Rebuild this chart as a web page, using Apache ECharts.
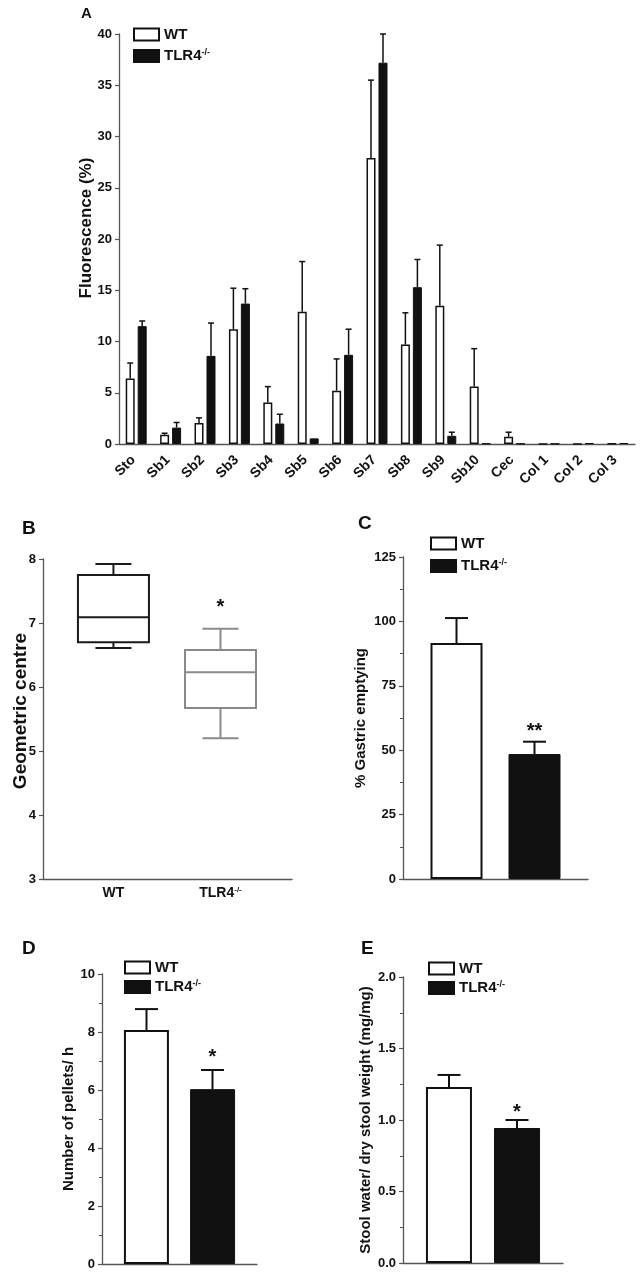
<!DOCTYPE html>
<html><head><meta charset="utf-8">
<script src="https://cdn.jsdelivr.net/npm/echarts@6/dist/echarts.min.js"></script>
<style>html,body{margin:0;padding:0;background:#fff}#c{width:640px;height:1273px}</style>
</head><body><div id="c"></div>
<script>
// ---------- DATA ----------
const seriesNames = ['WT', 'TLR4-/-'];
// Panel A
const categoriesA = ['Sto','Sb1','Sb2','Sb3','Sb4','Sb5','Sb6','Sb7','Sb8','Sb9','Sb10','Cec','Col 1','Col 2','Col 3'];
const wtMeanA  = [6.4, 0.9, 2.05, 11.2, 4.05, 12.9, 5.2, 27.9, 9.7, 13.5, 5.6, 0.7, 0.02, 0.02, 0.03];
const wtErrA   = [1.5, 0.15, 0.5, 4.0, 1.55, 4.9, 3.1, 7.6, 3.1, 5.9, 3.7, 0.45, 0, 0, 0];
const tlrMeanA = [11.5, 1.6, 8.6, 13.7, 2.0, 0.55, 8.7, 37.2, 15.3, 0.8, 0.05, 0.03, 0.03, 0.08, 0.1];
const tlrErrA  = [0.5, 0.5, 3.2, 1.45, 0.9, 0, 2.5, 2.8, 2.7, 0.35, 0, 0, 0, 0, 0];
const ticksA = [0, 40, 5];
// Panel B  [min, Q1, median, Q3, max]
const groupsB = ['WT', 'TLR4-/-'];
const wtBoxB  = [6.61, 6.70, 7.09, 7.75, 7.92];
const tlrBoxB = [5.20, 5.67, 6.23, 6.58, 6.91];
const sigB = ['', '*'];
const ticksB = [3, 8, 1];
// Panel C
const meanC = [91.6, 48.5];
const errC  = [9.7, 4.8];
const sigC  = ['', '**'];
const ticksC = [0, 125, 25];
// Panel D
const meanD = [8.07, 6.03];
const errD  = [0.72, 0.66];
const sigD  = ['', '*'];
const ticksD = [0, 10, 2];
// Panel E
const meanE = [1.23, 0.944];
const errE  = [0.085, 0.056];
const sigE  = ['', '*'];
const ticksE = [0, 2, 0.5];

// ---------- STYLE ----------
const FONT = 'Liberation Sans, Arial, Helvetica, sans-serif';
const AX = '#555';
const WT_STYLE = {color: '#ffffff', borderColor: '#111', borderWidth: 2};
const KO_STYLE = {color: '#111111', borderColor: '#111', borderWidth: 1};

function supFmt(name) {
  const m = /^(.*?)(-\/-)$/.exec(name);
  return m ? '{b|' + m[1] + '}{s|' + m[2] + '}' : '{b|' + name + '}';
}
function richText(size) {
  return {
    b: {fontSize: size, fontWeight: 'bold', fontFamily: FONT, color: '#111', lineHeight: size + 1},
    s: {fontSize: Math.round(size * 0.6), fontWeight: 'bold', fontFamily: FONT, color: '#111', verticalAlign: 'top'}
  };
}

function yAx(grid, t, name, nameSize, nameGap, namePad, minor, fmt) {
  return {
    type: 'value', gridIndex: grid, min: t[0], max: t[1], interval: t[2],
    axisLine: {show: true, onZero: false, lineStyle: {color: AX, width: 1.3}},
    axisTick: {show: true, length: 4, lineStyle: {color: AX, width: 1.2}},
    minorTick: {show: !!minor, splitNumber: 2, length: 3, lineStyle: {color: AX, width: 1}},
    splitLine: {show: false}, minorSplitLine: {show: false},
    axisLabel: {fontSize: 13, fontWeight: 'bold', color: '#111', fontFamily: FONT, margin: 7,
      formatter: fmt || null},
    name: name, nameLocation: 'middle', nameGap: nameGap, nameRotate: 90, nameMoveOverlap: false,
    nameTextStyle: {fontSize: nameSize, fontWeight: 'bold', color: '#111', fontFamily: FONT,
      padding: namePad}
  };
}
function xCat(grid, data, extra) {
  return Object.assign({
    type: 'category', gridIndex: grid, data: data,
    axisLine: {show: true, onZero: false, lineStyle: {color: AX, width: 1.3}},
    axisTick: {show: false}, axisLabel: {show: false}, splitLine: {show: false}
  }, extra || {});
}

function errRender(spacing, capHalf, lw, sigs, starFont, starLift) {
  return function (params, api) {
    const x = api.value(0), m = api.value(1), e = api.value(2), g = api.value(3);
    const base = api.coord([x, m]);
    const top = api.coord([x, m + e]);
    const cx = base[0] + (g - 0.5) * spacing;
    const st = {stroke: '#111', lineWidth: lw};
    const ch = [];
    if (e > 0) {
      ch.push({type: 'line', shape: {x1: cx, y1: base[1], x2: cx, y2: top[1]}, style: st});
      ch.push({type: 'line', shape: {x1: cx - capHalf, y1: top[1], x2: cx + capHalf, y2: top[1]}, style: st});
    }
    const s = sigs ? sigs[g] : '';
    if (s) {
      ch.push({type: 'text', style: {text: s, x: cx, y: top[1] - starLift, align: 'center',
        verticalAlign: 'middle', font: 'bold ' + starFont + 'px ' + FONT, fill: '#111'}});
    }
    return {type: 'group', children: ch};
  };
}

function boxRender(hw, capHalf, colors, sigs) {
  return function (params, api) {
    const g = api.value(0);
    const pMin = api.coord([g, api.value(1)]);
    const pQ1 = api.coord([g, api.value(2)]);
    const pMed = api.coord([g, api.value(3)]);
    const pQ3 = api.coord([g, api.value(4)]);
    const pMax = api.coord([g, api.value(5)]);
    const cx = pMin[0];
    const st = {stroke: colors[g], lineWidth: 2};
    const ch = [
      {type: 'line', shape: {x1: cx, y1: pQ3[1], x2: cx, y2: pMax[1]}, style: st},
      {type: 'line', shape: {x1: cx, y1: pQ1[1], x2: cx, y2: pMin[1]}, style: st},
      {type: 'line', shape: {x1: cx - capHalf, y1: pMax[1], x2: cx + capHalf, y2: pMax[1]}, style: st},
      {type: 'line', shape: {x1: cx - capHalf, y1: pMin[1], x2: cx + capHalf, y2: pMin[1]}, style: st},
      {type: 'rect', shape: {x: cx - hw, y: pQ3[1], width: 2 * hw, height: pQ1[1] - pQ3[1]},
        style: {stroke: colors[g], lineWidth: 2, fill: '#fff'}},
      {type: 'line', shape: {x1: cx - hw, y1: pMed[1], x2: cx + hw, y2: pMed[1]}, style: st}
    ];
    if (sigs[g]) {
      ch.push({type: 'text', style: {text: sigs[g], x: cx, y: pMax[1] - 21, align: 'center',
        verticalAlign: 'middle', font: 'bold 20px ' + FONT, fill: '#111'}});
    }
    return {type: 'group', children: ch};
  };
}

function legendAt(left, top, gap) {
  return {
    data: seriesNames, left: left, top: top, orient: 'vertical', icon: 'rect',
    itemWidth: 25, itemHeight: 12, itemGap: gap, padding: 0, selectedMode: false,
    formatter: supFmt,
    textStyle: {fontSize: 15, fontWeight: 'bold', color: '#111', fontFamily: FONT, rich: richText(15)}
  };
}
function titleAt(text, left, top, size) {
  return {text: text, left: left, top: top, padding: 0,
    textStyle: {fontSize: size, fontWeight: 'bold', color: '#111', fontFamily: FONT}};
}

// build custom data
const errDataA = [];
categoriesA.forEach(function (c, i) {
  errDataA.push([i, wtMeanA[i], wtErrA[i], 0]);
  errDataA.push([i, tlrMeanA[i], tlrErrA[i], 1]);
});
function pairData(mean, err) { return [[0, mean[0], err[0], 0], [0, mean[1], err[1], 1]]; }
const boxDataB = [[0].concat(wtBoxB), [1].concat(tlrBoxB)];

function barPair(xi, yi, mean, width, gap) {
  return [
    {name: seriesNames[0], type: 'bar', xAxisIndex: xi, yAxisIndex: yi, data: [mean[0]],
      barWidth: width, barGap: gap, itemStyle: WT_STYLE},
    {name: seriesNames[1], type: 'bar', xAxisIndex: xi, yAxisIndex: yi, data: [mean[1]],
      barWidth: width, barGap: gap, itemStyle: KO_STYLE}
  ];
}

const chart = echarts.init(document.getElementById('c'), null, {renderer: 'canvas'});
const option = {
  animation: false,
  textStyle: {fontFamily: FONT},
  title: [
    titleAt('A', 81, 6, 15),
    titleAt('B', 22, 519, 19),
    titleAt('C', 358, 514, 19),
    titleAt('D', 22, 939, 19),
    titleAt('E', 361, 939, 19)
  ],
  legend: [legendAt(133, 27, 6), legendAt(430, 536, 7), legendAt(124, 960, 4), legendAt(428, 961, 4)],
  grid: [
    {left: 119, top: 34, width: 516, height: 410},
    {left: 43, top: 559, width: 249, height: 320},
    {left: 403, top: 557, width: 185, height: 322},
    {left: 102, top: 974, width: 155, height: 290},
    {left: 403, top: 977, width: 160, height: 286}
  ],
  xAxis: [
    xCat(0, categoriesA, {axisLabel: {show: true, interval: 0, rotate: 45, margin: 11, fontSize: 14,
      fontWeight: 'bold', color: '#111', fontFamily: FONT, padding: [0, 4, 0, 0]}}),
    {type: 'value', gridIndex: 1, min: -0.658, max: 1.668,
      axisLine: {show: true, onZero: false, lineStyle: {color: AX, width: 1.3}}, axisTick: {show: false},
      splitLine: {show: false},
      axisLabel: {show: true, customValues: [0, 1], margin: 7,
        formatter: function (v) { return supFmt(groupsB[Math.round(v)]); },
        rich: richText(14)}},
    xCat(2, ['C']),
    xCat(3, ['D']),
    xCat(4, ['E'])
  ],
  yAxis: [
    yAx(0, ticksA, 'Fluorescence (%)', 17, 24, [0, 0, 0, 22], false),
    yAx(1, ticksB, 'Geometric centre', 19, 13, [0, 0, 0, 16], false),
    yAx(2, ticksC, '% Gastric emptying', 15, 35, 0, true),
    yAx(3, ticksD, 'Number of pellets/ h', 15, 26, 0, true),
    yAx(4, ticksE, 'Stool water/ dry stool weight (mg/mg)', 15, 30, 0, true,
      function (v) { return v.toFixed(1); })
  ],
  series: [
    {name: seriesNames[0], type: 'bar', xAxisIndex: 0, yAxisIndex: 0, data: wtMeanA,
      barWidth: 9, barGap: '33%', itemStyle: {color: '#fff', borderColor: '#111', borderWidth: 1.5}},
    {name: seriesNames[1], type: 'bar', xAxisIndex: 0, yAxisIndex: 0, data: tlrMeanA,
      barWidth: 9, barGap: '33%', itemStyle: KO_STYLE},
    {name: 'errA', type: 'custom', xAxisIndex: 0, yAxisIndex: 0, data: errDataA,
      encode: {x: 0, y: 1}, renderItem: errRender(12, 3, 1.5, null, 0, 0), z: 3},
    {name: 'boxB', type: 'custom', xAxisIndex: 1, yAxisIndex: 1, data: boxDataB,
      encode: {x: 0, y: [1, 2, 3, 4, 5]}, renderItem: boxRender(35.5, 18, ['#1a1a1a', '#8a8a8a'], sigB)}
  ].concat(
    barPair(2, 2, meanC, 52, '50%'),
    [{name: 'errC', type: 'custom', xAxisIndex: 2, yAxisIndex: 2, data: pairData(meanC, errC),
      encode: {x: 0, y: 1}, renderItem: errRender(78, 11.5, 2, sigC, 20, 10), z: 3}],
    barPair(3, 3, meanD, 45, '47%'),
    [{name: 'errD', type: 'custom', xAxisIndex: 3, yAxisIndex: 3, data: pairData(meanD, errD),
      encode: {x: 0, y: 1}, renderItem: errRender(66, 11.5, 2, sigD, 20, 13), z: 3}],
    barPair(4, 4, meanE, 46, '48%'),
    [{name: 'errE', type: 'custom', xAxisIndex: 4, yAxisIndex: 4, data: pairData(meanE, errE),
      encode: {x: 0, y: 1}, renderItem: errRender(68, 11.5, 2, sigE, 20, 8), z: 3}]
  )
};
chart.setOption(option);
</script>
</body></html>
